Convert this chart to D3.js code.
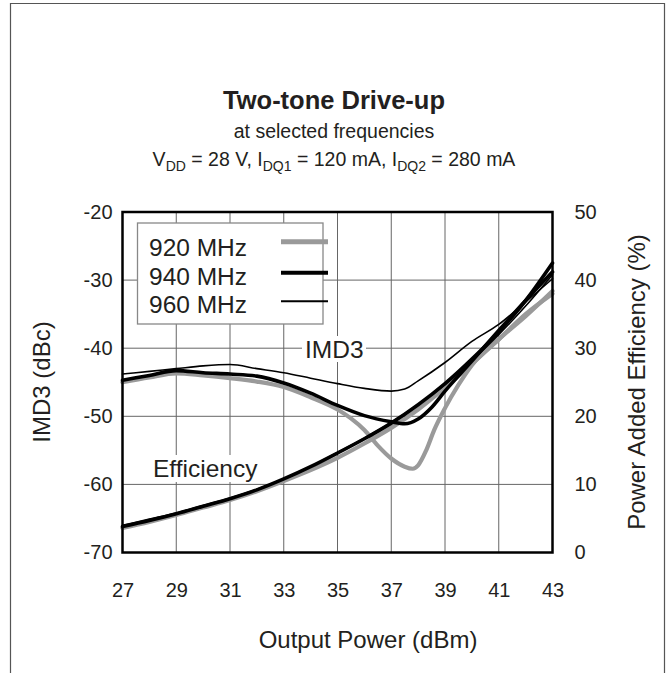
<!DOCTYPE html>
<html>
<head>
<meta charset="utf-8">
<script src="https://cdn.jsdelivr.net/npm/d3@7"></script>
<style>
  html, body { margin: 0; padding: 0; background: #fff; }
  svg { display: block; font-family: "Liberation Sans", Arial, Helvetica, sans-serif; }
</style>
</head>
<body>
<svg id="chart" width="666" height="673"></svg>
<script>
// ---------- data ----------
const power = [27, 28, 29, 30, 31, 32, 33, 34, 35, 36, 37, 38, 39, 40, 41, 42, 43];

// IMD3 (dBc)
const imd920P = [27, 28, 29, 30, 31, 32, 33, 34, 35, 35.5, 36, 36.5, 37, 37.5, 37.8, 38, 38.3, 38.6, 39, 39.5, 40, 41, 42, 43];
const imd920  = [-45.0, -44.3, -43.7, -44.0, -44.4, -44.9, -45.7, -47.2, -49.0, -50.3, -52.0, -54.3, -56.2, -57.4, -57.7, -57.2, -55.0, -52.0, -48.8, -45.4, -42.5, -38.7, -35.3, -31.6];
const imd940P = [27, 28, 29, 30, 31, 32, 33, 34, 35, 36, 37, 37.5, 38, 38.5, 39, 40, 41, 42, 43];
const imd940  = [-44.7, -44.0, -43.3, -43.6, -43.8, -44.1, -45.1, -46.6, -48.4, -49.9, -50.8, -51.1, -50.4, -48.7, -46.3, -41.9, -37.4, -33.0, -28.8];
const imd960P = [27, 28, 29, 30, 31, 32, 33, 34, 35, 36, 37, 37.5, 38, 39, 40, 41, 42, 43];
const imd960  = [-43.8, -43.4, -43.0, -42.6, -42.4, -43.0, -43.6, -44.4, -45.2, -45.9, -46.3, -46.0, -44.8, -42.1, -39.0, -36.5, -33.2, -29.8];

// Power Added Efficiency (%)
const eff920 = [3.6, 4.5, 5.5, 6.6, 7.7, 9.0, 10.5, 12.1, 13.9, 16.0, 18.3, 21.0, 24.2, 27.7, 31.3, 35.0, 38.0];
const eff940 = [3.8, 4.7, 5.7, 6.8, 7.9, 9.2, 10.8, 12.6, 14.6, 16.7, 19.0, 21.7, 24.8, 28.4, 32.4, 37.0, 42.5];
const eff960 = [4.0, 4.9, 5.8, 6.9, 8.0, 9.3, 10.8, 12.6, 14.7, 16.8, 19.1, 21.7, 24.7, 28.2, 32.0, 36.2, 40.8];

const seriesNames = ["920 MHz", "940 MHz", "960 MHz"];
const xTicks = [27, 29, 31, 33, 35, 37, 39, 41, 43];
const yLeftTicks = [-20, -30, -40, -50, -60, -70];
const yRightTicks = [50, 40, 30, 20, 10, 0];

// ---------- styles ----------
const styles = {
  "920 MHz": { color: "#9a9a9a", width: 4.2 },
  "940 MHz": { color: "#000000", width: 3.6 },
  "960 MHz": { color: "#000000", width: 1.6 }
};

const svg = d3.select("#chart");

// outer frame
svg.append("path")
  .attr("d", "M10.5,673 V3.5 H664.5 V673")
  .attr("fill", "none").attr("stroke", "#555").attr("stroke-width", 1.2);

// titles
const cx = 334;
svg.append("text").attr("x", cx).attr("y", 109).attr("text-anchor", "middle")
  .attr("font-size", 25.5).attr("font-weight", "bold").attr("fill", "#231f20")
  .text("Two-tone Drive-up");
svg.append("text").attr("x", cx).attr("y", 138).attr("text-anchor", "middle")
  .attr("font-size", 19.5).attr("fill", "#231f20")
  .text("at selected frequencies");
const t3 = svg.append("text").attr("x", cx).attr("y", 166).attr("text-anchor", "middle")
  .attr("font-size", 19.5).attr("fill", "#231f20");
const parts = [["V", 0], ["DD", 1], [" = 28 V, I", 0], ["DQ1", 1], [" = 120 mA, I", 0], ["DQ2", 1], [" = 280 mA", 0]];
let prevSub = 0;
parts.forEach(([s, sub]) => {
  const ts = t3.append("tspan").text(s);
  const dy = (sub ? 5 : 0) - (prevSub ? 5 : 0);
  if (dy) ts.attr("dy", dy);
  if (sub) ts.attr("font-size", 14);
  prevSub = sub;
});

// scales
const x = d3.scaleLinear().domain([27, 43]).range([122.5, 552.5]);
const yL = d3.scaleLinear().domain([-70, -20]).range([552.5, 212]);
const yR = d3.scaleLinear().domain([0, 50]).range([552.5, 212]);

const plot = svg.append("g");

// grid
plot.selectAll(".vg").data(xTicks.slice(1, -1)).enter().append("line")
  .attr("x1", d => x(d)).attr("x2", d => x(d)).attr("y1", yL(-20)).attr("y2", yL(-70))
  .attr("stroke", "#666").attr("stroke-width", 1);
plot.selectAll(".hg").data(yLeftTicks.slice(1, -1)).enter().append("line")
  .attr("x1", x(27)).attr("x2", x(43)).attr("y1", d => yL(d)).attr("y2", d => yL(d))
  .attr("stroke", "#666").attr("stroke-width", 1);

// annotation backgrounds
plot.append("rect").attr("x", 302).attr("y", 336).attr("width", 64).attr("height", 26).attr("fill", "#fff");
plot.append("rect").attr("x", 150).attr("y", 455).attr("width", 112).attr("height", 27).attr("fill", "#fff");

// lines
const lineL = d3.line().x(d => x(d[0])).y(d => yL(d[1])).curve(d3.curveMonotoneX);
const lineR = d3.line().x(d => x(d[0])).y(d => yR(d[1])).curve(d3.curveMonotoneX);
const zip = (a, b) => a.map((v, i) => [v, b[i]]);

const curves = [
  { name: "920 MHz", d: lineR(zip(power, eff920)) },
  { name: "920 MHz", d: lineL(zip(imd920P, imd920)) },
  { name: "940 MHz", d: lineR(zip(power, eff940)) },
  { name: "940 MHz", d: lineL(zip(imd940P, imd940)) },
  { name: "960 MHz", d: lineR(zip(power, eff960)) },
  { name: "960 MHz", d: lineL(zip(imd960P, imd960)) }
];
plot.selectAll(".curve").data(curves).enter().append("path")
  .attr("d", c => c.d).attr("fill", "none")
  .attr("stroke", c => styles[c.name].color)
  .attr("stroke-width", c => styles[c.name].width)
  .attr("stroke-linejoin", "round").attr("stroke-linecap", "round");

// annotations
plot.append("text").attr("x", 305).attr("y", 358).attr("font-size", 24.5).attr("fill", "#231f20").text("IMD3");
plot.append("text").attr("x", 153).attr("y", 477).attr("font-size", 24.5).attr("fill", "#231f20").text("Efficiency");

// legend
const lg = plot.append("g");
lg.append("rect").attr("x", 137.5).attr("y", 223).attr("width", 185.5).attr("height", 101)
  .attr("fill", "#fff").attr("stroke", "#888").attr("stroke-width", 1.3);
const lineYs = [241.7, 272.7, 301.3];
const textYs = [256, 284.5, 313];
seriesNames.forEach((n, i) => {
  lg.append("text").attr("x", 149).attr("y", textYs[i]).attr("font-size", 24.5)
    .attr("fill", "#231f20").text(n);
  lg.append("line").attr("x1", 281).attr("x2", 328).attr("y1", lineYs[i]).attr("y2", lineYs[i])
    .attr("stroke", styles[n].color).attr("stroke-width", styles[n].width + (i === 0 ? 0.8 : 0.4));
});

// plot frame
plot.append("rect").attr("x", x(27)).attr("y", yL(-20))
  .attr("width", x(43) - x(27)).attr("height", yL(-70) - yL(-20))
  .attr("fill", "none").attr("stroke", "#000").attr("stroke-width", 2.5);

// axes
const styleAxis = g => {
  g.select(".domain").remove();
  g.selectAll("line").remove();
  g.selectAll("text").attr("font-size", 20).attr("fill", "#231f20")
    .attr("font-family", "'Liberation Sans', Arial, Helvetica, sans-serif");
};
const fmt = d => String(d);
svg.append("g").attr("transform", `translate(${x(27)},0)`)
  .call(d3.axisLeft(yL).tickValues(yLeftTicks).tickSize(0).tickPadding(10).tickFormat(fmt))
  .call(styleAxis);
svg.append("g").attr("transform", `translate(${x(43)},0)`)
  .call(d3.axisRight(yR).tickValues(yRightTicks).tickSize(0).tickPadding(22).tickFormat(fmt))
  .call(styleAxis);
svg.append("g").attr("transform", `translate(0,${yL(-70)})`)
  .call(d3.axisBottom(x).tickValues(xTicks).tickSize(0).tickPadding(30).tickFormat(fmt))
  .call(styleAxis);

// axis titles
svg.append("text").attr("transform", "translate(50,382) rotate(-90)").attr("text-anchor", "middle")
  .attr("font-size", 24).attr("fill", "#231f20").text("IMD3 (dBc)");
svg.append("text").attr("transform", "translate(645,382) rotate(-90)").attr("text-anchor", "middle")
  .attr("font-size", 24).attr("fill", "#231f20").text("Power Added Efficiency (%)");
svg.append("text").attr("x", 368).attr("y", 648).attr("text-anchor", "middle")
  .attr("font-size", 24).attr("fill", "#231f20").text("Output Power (dBm)");
</script>
</body>
</html>
